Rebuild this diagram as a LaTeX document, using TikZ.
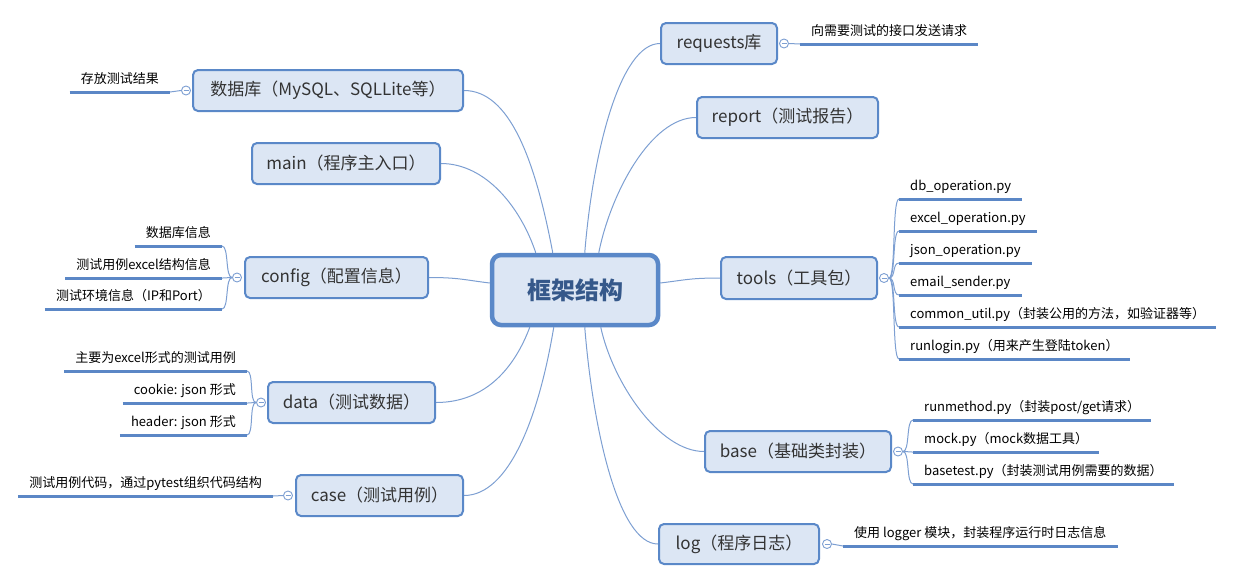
\documentclass[tikz,border=0pt]{standalone}
\usepackage{fontspec}
\setmainfont{Noto Sans CJK SC}
\usetikzlibrary{backgrounds}
\definecolor{nodefill}{HTML}{DCE6F4}
\definecolor{nodeedge}{HTML}{5A88C8}
\definecolor{conn}{HTML}{7D9FD2}
\definecolor{lline}{HTML}{5B87C6}
\definecolor{ctext}{HTML}{35588A}
\definecolor{ntext}{HTML}{333333}
\begin{document}
\begin{tikzpicture}[x=1pt,y=-1pt,
  topic/.style={draw=nodeedge, line width=2pt, fill=nodefill, rounded corners=5pt, text=ntext, font=\fontsize{17}{20}\selectfont, inner sep=0pt},
  centre/.style={draw=nodeedge, line width=4.5pt, fill=nodefill, rounded corners=9pt, text=ctext, font=\fontsize{24}{28}\selectfont\bfseries, inner sep=0pt, minimum width=166pt, minimum height=70pt},
  leaf/.style={font=\fontsize{13}{15}\selectfont, text=black, inner xsep=11pt, inner ysep=0pt, text height=10pt, text depth=8pt},
  leafline/.style={draw=lline, line width=3pt},
  connector/.style={draw=conn, line width=1pt},
  collapse/.style={circle, draw=conn, line width=0.9pt, fill=white, minimum size=9pt, inner sep=0pt,
    path picture={\draw[conn, line width=0.8pt] ([xshift=-2.5pt]path picture bounding box.center) -- ([xshift=2.5pt]path picture bounding box.center);}}
]
\useasboundingbox (0,0) rectangle (1233,582);

% root and topics
\node[centre] (root) at (575,290) {框架结构};
\node[topic, minimum width=116pt, minimum height=41pt] (req) at (719,43.5) {requests库};
\node[topic, minimum width=181pt, minimum height=41pt] (report) at (787.5,117.5) {report（测试报告）};
\node[topic, minimum width=156pt, minimum height=42pt] (tools) at (799,278) {tools（工具包）};
\node[topic, minimum width=186pt, minimum height=41pt] (base) at (798,451.5) {base（基础类封装）};
\node[topic, minimum width=160pt, minimum height=40pt] (log) at (739,544) {log（程序日志）};
\node[topic, minimum width=270pt, minimum height=41pt] (db) at (328,90.5) {数据库（MySQL、SQLLite等）};
\node[topic, minimum width=188pt, minimum height=41pt] (main) at (346,163.5) {main（程序主入口）};
\node[topic, minimum width=183pt, minimum height=41pt] (config) at (336.5,277.5) {config（配置信息）};
\node[topic, minimum width=167pt, minimum height=41pt] (data) at (351.5,402.5) {data（测试数据）};
\node[topic, minimum width=167pt, minimum height=41pt] (case) at (379.5,495.5) {case（测试用例）};

% collapse markers
\node[collapse] (creq) at ([xshift=6pt]req.east) {};
\node[collapse] (ctools) at ([xshift=6pt]tools.east) {};
\node[collapse] (cbase) at ([xshift=6pt]base.east) {};
\node[collapse] (clog) at ([xshift=7pt]log.east) {};
\node[collapse] (cdb) at ([xshift=-6pt]db.west) {};
\node[collapse] (cconf) at ([xshift=-7pt]config.west) {};
\node[collapse] (cdata) at ([xshift=-6pt]data.west) {};
\node[collapse] (ccase) at ([xshift=-7pt]case.west) {};

% leaves
\node[leaf, anchor=south west] (lreq) at (800,44) {向需要测试的接口发送请求};
\node[leaf, anchor=south east] (ldb) at (170,92) {存放测试结果};
\node[leaf, anchor=south east] (lc1) at (222,246) {数据库信息};
\node[leaf, anchor=south east] (lc2) at (222,278) {测试用例excel结构信息};
\node[leaf, anchor=south east] (lc3) at (222,309) {测试环境信息（IP和Port）};
\node[leaf, anchor=south east] (ld1) at (247,371) {主要为excel形式的测试用例};
\node[leaf, anchor=south east] (ld2) at (247,403) {cookie: json 形式};
\node[leaf, anchor=south east] (ld3) at (247,435) {header: json 形式};
\node[leaf, anchor=south east] (lcase) at (273,496) {测试用例代码，通过pytest组织代码结构};
\node[leaf, anchor=south west] (lt1) at (899,199) {db\_operation.py};
\node[leaf, anchor=south west] (lt2) at (899,231) {excel\_operation.py};
\node[leaf, anchor=south west] (lt3) at (899,263) {json\_operation.py};
\node[leaf, anchor=south west] (lt4) at (899,295) {email\_sender.py};
\node[leaf, anchor=south west] (lt5) at (899,327) {common\_util.py（封装公用的方法，如验证器等）};
\node[leaf, anchor=south west] (lt6) at (899,359) {runlogin.py（用来产生登陆token）};
\node[leaf, anchor=south west] (lb1) at (913,420) {runmethod.py（封装post/get请求）};
\node[leaf, anchor=south west] (lb2) at (913,452) {mock.py（mock数据工具）};
\node[leaf, anchor=south west] (lb3) at (913,484) {basetest.py（封装测试用例需要的数据）};
\node[leaf, anchor=south west] (llog) at (843,546) {使用 logger 模块，封装程序运行时日志信息};

\foreach \n in {lreq,ldb,lc1,lc2,lc3,ld1,ld2,ld3,lcase,lt1,lt2,lt3,lt4,lt5,lt6,lb1,lb2,lb3,llog}
  \draw[leafline] (\n.south west) -- (\n.south east);

% attachment points on root
\coordinate (t1) at ([xshift=46pt]root.north west);
\coordinate (t2) at ([xshift=63pt]root.north west);
\coordinate (t3) at ([xshift=95pt]root.north west);
\coordinate (t4) at ([xshift=109pt]root.north west);
\coordinate (b1) at ([xshift=40pt]root.south west);
\coordinate (b2) at ([xshift=64pt]root.south west);
\coordinate (b3) at ([xshift=95pt]root.south west);
\coordinate (b4) at ([xshift=111pt]root.south west);
\coordinate (lw) at ([yshift=7pt]root.west);
\coordinate (rw) at ([yshift=7pt]root.east);

\begin{pgfonlayer}{background}
% main connectors
\draw[connector] (db.east) .. controls +(45,0) and +(-18,-95) .. (t2);
\draw[connector] (main.east) .. controls +(45,0) and +(-15,-45) .. (t1);
\draw[connector] (config.east) .. controls +(30,0) and +(-25,-3) .. (lw);
\draw[connector] (data.east) .. controls +(50,0) and +(-15,40) .. (b1);
\draw[connector] (case.east) .. controls +(45,0) and +(-15,90) .. (b2);
\draw[connector] (req.west) .. controls +(-40,0) and +(8,-100) .. (t3);
\draw[connector] (report.west) .. controls +(-45,0) and +(12,-60) .. (t4);
\draw[connector] (tools.west) .. controls +(-30,0) and +(25,-3) .. (rw);
\draw[connector] (base.west) .. controls +(-45,0) and +(12,55) .. (b4);
\draw[connector] (log.west) .. controls +(-40,0) and +(8,100) .. (b3);

% branch connectors
\draw[connector] (creq.east) -- (lreq.south west);
\draw[connector] (clog.east) -- (llog.south west);
\draw[connector] (cdb.west) -- (ldb.south east);
\draw[connector] (ccase.west) -- (lcase.south east);
\foreach \n in {lc1,lc2,lc3}
  \draw[connector] (cconf.west) .. controls +(-7,0) and +(7,0) .. (\n.south east);
\foreach \n in {ld1,ld2,ld3}
  \draw[connector] (cdata.west) .. controls +(-7,0) and +(7,0) .. (\n.south east);
\foreach \n in {lt1,lt2,lt3,lt4,lt5,lt6}
  \draw[connector] (ctools.east) .. controls +(7,0) and +(-7,0) .. (\n.south west);
\foreach \n in {lb1,lb2,lb3}
  \draw[connector] (cbase.east) .. controls +(7,0) and +(-7,0) .. (\n.south west);
\end{pgfonlayer}
\end{tikzpicture}
\end{document}
